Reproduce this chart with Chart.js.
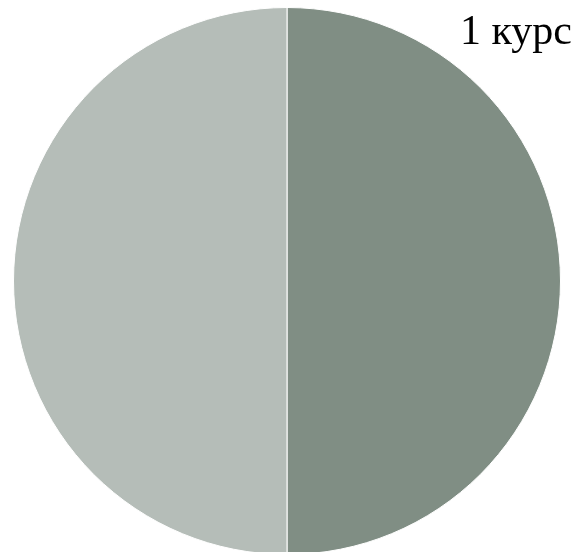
<!DOCTYPE html>
<html>
<head>
<meta charset="utf-8">
<script src="https://cdn.jsdelivr.net/npm/chart.js@4"></script>
<style>
html,body{margin:0;padding:0;background:#fff;width:577px;height:552px;overflow:hidden;position:relative;}
#wrap{position:absolute;left:13px;top:7px;width:548px;height:548px;}
#title{position:absolute;right:5px;top:9px;font-family:"Liberation Serif","DejaVu Serif",serif;font-size:42px;color:#000;line-height:1;z-index:2;}
</style>
</head>
<body>
<div id="wrap"><canvas id="c"></canvas></div>
<div id="title">1 курс</div>
<script>
const categories = ["A", "B"];
const values = [50, 50];
const colors = ["#808e84", "#b5bdb8"];

new Chart(document.getElementById('c'), {
  type: 'pie',
  data: {
    labels: categories,
    datasets: [{
      data: values,
      backgroundColor: colors,
      borderColor: '#ffffff',
      borderWidth: 1
    }]
  },
  options: {
    responsive: true,
    maintainAspectRatio: false,
    animation: false,
    layout: { padding: 0 },
    plugins: {
      legend: { display: false },
      tooltip: { enabled: false },
      title: { display: false }
    }
  }
});
</script>
</body>
</html>
